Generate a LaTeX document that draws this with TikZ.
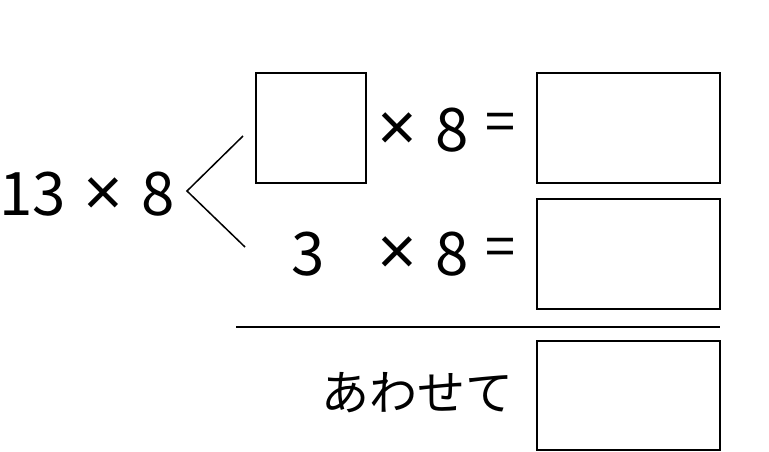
\documentclass[tikz,border=0pt]{standalone}
\usepackage{fontspec}
\setmainfont{Noto Sans CJK JP}
\newfontfamily\timesfont{Liberation Sans}

\begin{document}
\begin{tikzpicture}[x=1pt,y=-1pt]
  \tikzset{
    num/.style={inner sep=0pt, anchor=base, font=\fontsize{60}{60}\selectfont},
    timessign/.style={inner sep=0pt, anchor=base, font=\timesfont\fontsize{68}{68}\selectfont},
    eqsign/.style={inner sep=0pt, font=\fontsize{54}{54}\selectfont},
    ansbox/.style={draw, line width=1.2pt, inner sep=0pt, minimum width=183pt, minimum height=110pt}
  }
  \useasboundingbox (0,0) rectangle (769,451);

  % the product that is split
  \node[num] (one3) at (33,215) {13};
  \node[timessign] (times0) at (103.5,215) {×};
  \node[num] (eight0) at (158,215) {8};

  % the fork
  \coordinate (fork) at (187,191);
  \coordinate (forkup) at (243,136);
  \coordinate (forkdown) at (245,247);
  \draw[line width=1.5pt] (forkup) -- (fork) -- (forkdown);

  % first row
  \node[draw, line width=1.2pt, inner sep=0pt, minimum width=110pt, minimum height=110pt] (blank) at (311,128) {};
  \node[timessign] (times1) at (397,150.5) {×};
  \node[num] (eight1) at (452.5,151) {8};
  \node[eqsign] (eq1) at (500.5,127) {=};
  \node[ansbox] (ans1) at (628.5,128) {};

  % second row
  \node[num] (three) at (308,275) {3};
  \node[timessign] (times2) at (397,274) {×};
  \node[num] (eight2) at (452.5,275) {8};
  \node[eqsign] (eq2) at (500.5,252.5) {=};
  \node[ansbox] (ans2) at (628.5,254) {};

  % sum
  \coordinate (rulel) at (236,326.5);
  \coordinate (ruler) at (720,326.5);
  \draw[line width=2pt] (rulel) -- (ruler);
  \node[inner sep=0pt, font=\fontsize{48}{48}\selectfont] (total) at (417,393) {あわせて};
  \node[ansbox, minimum height=109pt] (ans3) at (628.5,395.5) {};
\end{tikzpicture}
\end{document}
